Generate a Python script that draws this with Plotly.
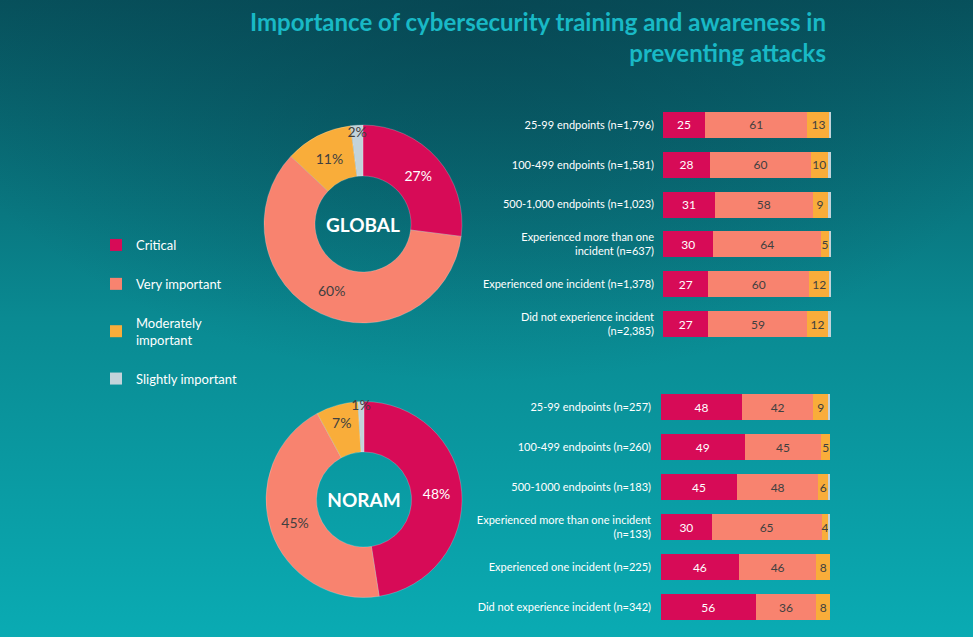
import base64
import plotly.graph_objects as go

# ---------------- data ----------------
levels = ["Critical", "Very important", "Moderately important", "Slightly important"]
legend_names = ["Critical", "Very important", "Moderately<br>important", "Slightly important"]
colors = ["#d70b57", "#f8836f", "#f9ad3a", "#c3d3da"]
text_colors = ["#ffffff", "#404040", "#404040", "#404040"]

global_pie = [27, 60, 11, 2]
noram_pie = [48, 45, 7, 1]

global_cats = [
    "25-99 endpoints (n=1,796)",
    "100-499 endpoints (n=1,581)",
    "500-1,000 endpoints (n=1,023)",
    "Experienced more than one<br>incident (n=637)",
    "Experienced one incident (n=1,378)",
    "Did not experience incident<br>(n=2,385)",
]
global_critical = [25, 28, 31, 30, 27, 27]
global_very = [61, 60, 58, 64, 60, 59]
global_moderate = [13, 10, 9, 5, 12, 12]
global_slight = [1, 2, 2, 1, 1, 2]

noram_cats = [
    "25-99 endpoints (n=257)",
    "100-499 endpoints (n=260)",
    "500-1000 endpoints (n=183)",
    "Experienced more than one incident<br>(n=133)",
    "Experienced one incident (n=225)",
    "Did not experience incident (n=342)",
]
noram_critical = [48, 49, 45, 30, 46, 56]
noram_very = [42, 45, 48, 65, 46, 36]
noram_moderate = [9, 5, 6, 4, 8, 8]
noram_slight = [1, 0, 1, 1, 0, 0]

title_text = "Importance of cybersecurity training and awareness in<br>preventing attacks"

FONT = "Lato"
W, H = 973, 637

fig = go.Figure()

# ---------------- pies ----------------
for vals, dom, name in [
    (global_pie, dict(x=[264 / W, 462 / W], y=[1 - 323 / H, 1 - 125 / H]), "GLOBAL"),
    (noram_pie, dict(x=[266 / W, 462 / W], y=[1 - 598 / H, 1 - 401 / H]), "NORAM"),
]:
    fig.add_trace(go.Pie(
        labels=levels, values=vals, domain=dom, hole=0.485,
        sort=False, direction="clockwise", rotation=0,
        marker=dict(colors=colors, line=dict(width=0.6, color="rgba(255,255,255,0.35)")),
        texttemplate="%{value}%", textposition="inside",
        insidetextorientation="horizontal",
        textfont=dict(family=FONT, size=14, color=text_colors),
        title=dict(text="<b>" + name + "</b>", position="middle center",
                   font=dict(family=FONT, size=19, color="#ffffff")),
        showlegend=False, hoverinfo="label+value",
    ))

# ---------------- bars ----------------
def add_bars(cats, series, xaxis, yaxis, show):
    for i, (lvl, vals) in enumerate(zip(levels, series)):
        txt = [str(v) if (i < 3 and v > 0) else "" for v in vals]
        fig.add_trace(go.Bar(
            y=cats, x=vals, orientation="h", name=legend_names[i],
            legendgroup=lvl, showlegend=show,
            marker=dict(color=colors[i], line=dict(width=0)),
            text=txt, textposition="inside", insidetextanchor="middle",
            textangle=0, textfont=dict(family=FONT, size=12, color=text_colors[i]),
            xaxis=xaxis, yaxis=yaxis, hoverinfo="y+x",
        ))

add_bars(global_cats, [global_critical, global_very, global_moderate, global_slight], "x", "y", True)
add_bars(noram_cats, [noram_critical, noram_very, noram_moderate, noram_slight], "x2", "y2", False)

axis_common = dict(showgrid=False, zeroline=False, showline=False)

# gradient background as inline SVG
svg = f'''<svg xmlns="http://www.w3.org/2000/svg" width="{W}" height="{H}">
<defs><linearGradient id="g" x1="0" y1="0" x2="0" y2="1">
<stop offset="0" stop-color="#07525d"/>
<stop offset="0.5" stop-color="#0a8a92"/>
<stop offset="1" stop-color="#0aabb3"/>
</linearGradient>
<radialGradient id="r" cx="0.5" cy="0" r="0.6">
<stop offset="0" stop-color="#073f4c" stop-opacity="0.55"/>
<stop offset="1" stop-color="#073f4c" stop-opacity="0"/>
</radialGradient></defs>
<rect width="{W}" height="{H}" fill="url(#g)"/>
<rect width="{W}" height="{H}" fill="url(#r)"/>
</svg>'''
bg_src = "data:image/svg+xml;base64," + base64.b64encode(svg.encode()).decode()

fig.update_layout(
    width=W, height=H,
    margin=dict(l=0, r=0, t=0, b=0),
    paper_bgcolor="#0a7f88", plot_bgcolor="rgba(0,0,0,0)",
    barmode="stack", barnorm="percent", bargap=0.35,
    uniformtext=dict(minsize=9, mode="show"),
    font=dict(family=FONT, color="#ffffff"),
    title=dict(text="<b>" + title_text + "</b>", x=826 / W, xanchor="right",
               y=1 - 31 / H, yanchor="middle",
               font=dict(family=FONT, size=24, color="#19b9c6")),
    xaxis=dict(domain=[663 / W, 831 / W], range=[0, 100], visible=False, **axis_common),
    yaxis=dict(domain=[1 - 344 / H, 1 - 105 / H], autorange="reversed",
               tickfont=dict(family=FONT, size=11, color="#ffffff"),
               ticks="", ticklabelstandoff=8, **axis_common),
    xaxis2=dict(domain=[661 / W, 830 / W], range=[0, 100], visible=False, anchor="y2", **axis_common),
    yaxis2=dict(domain=[1 - 627 / H, 1 - 387 / H], autorange="reversed", anchor="x2",
                tickfont=dict(family=FONT, size=11, color="#ffffff"),
                ticks="", ticklabelstandoff=9, **axis_common),
    legend=dict(x=96 / W, y=1 - 230 / H, xanchor="left", yanchor="top",
                bgcolor="rgba(0,0,0,0)", font=dict(family=FONT, size=13, color="#ffffff"),
                tracegroupgap=19, itemwidth=30, traceorder="grouped"),
    images=[dict(source=bg_src, xref="paper", yref="paper", x=0, y=1,
                 sizex=1, sizey=1, xanchor="left", yanchor="top",
                 sizing="stretch", layer="below")],
)

fig.write_html("out.html")
